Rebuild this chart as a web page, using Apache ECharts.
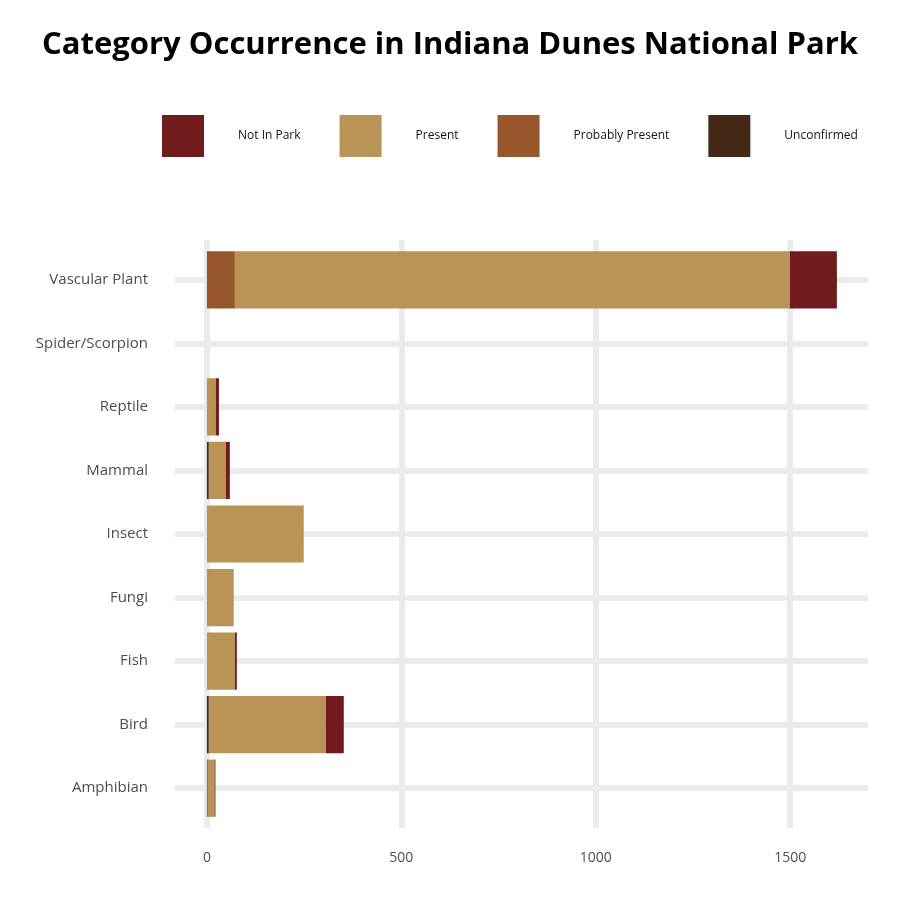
<!DOCTYPE html>
<html>
<head>
<meta charset="utf-8">
<script src="https://cdn.jsdelivr.net/npm/echarts@6/dist/echarts.min.js"></script>
<style>
  html, body { margin: 0; padding: 0; background: #fff; }
  #chart { width: 900px; height: 900px; }
</style>
</head>
<body>
<div id="chart"></div>
<script>
// categories, bottom to top
var categories = ['Amphibian', 'Bird', 'Fish', 'Fungi', 'Insect', 'Mammal', 'Reptile', 'Spider/Scorpion', 'Vascular Plant'];
// species counts per occurrence status
var unconfirmed     = [2, 5, 0, 0, 0, 5, 0, 0, 0];
var probablyPresent = [0, 0, 0, 0, 0, 0, 0, 0, 72];
var present         = [18, 301, 72, 69, 249, 44, 23, 0, 1427];
var notInPark       = [2, 46, 5, 0, 0, 10, 8, 0, 121];
var xTicks = [0, 500, 1000, 1500];

var chartDom = document.getElementById('chart');
var myChart = echarts.init(chartDom);
var font = 'Open Sans';

function barSeries(name, data, color) {
    return {
        name: name,
        type: 'bar',
        stack: 'total',
        data: data,
        barCategoryGap: '10%',
        itemStyle: { color: color },
        z: 3
    };
}

var option = {
    backgroundColor: '#fff',
    animation: false,
    title: {
        text: 'Category Occurrence in Indiana Dunes National Park',
        left: 'center',
        top: 25,
        textStyle: { fontFamily: font, fontWeight: 'bold', fontSize: 31, color: '#000' }
    },
    legend: {
        data: ['Not In Park', 'Present', 'Probably Present', 'Unconfirmed'],
        left: 162,
        top: 115,
        padding: 0,
        itemWidth: 42,
        itemHeight: 42,
        itemGap: 39,
        icon: 'rect',
        textStyle: { fontFamily: font, fontSize: 12, color: '#111', padding: [0, 0, 0, 29] }
    },
    grid: [
        { left: 175, right: 32, top: 248, bottom: 80 },
        { left: 175, right: 32, top: 240, bottom: 72 }
    ],
    xAxis: [
        {
            type: 'value', gridIndex: 0, min: -82, max: 1700, splitNumber: 4,
            axisLine: { show: false }, axisTick: { show: false }, splitLine: { show: false },
            axisLabel: { showMinLabel: false, showMaxLabel: false, margin: 31,
                fontFamily: font, fontSize: 14, color: '#4d4d4d',
                formatter: function (v) { return String(v); } }
        },
        {
            type: 'value', gridIndex: 1, min: -82, max: 1700, show: false
        }
    ],
    yAxis: [
        {
            type: 'category', gridIndex: 0, data: categories,
            axisLine: { show: false, onZero: false },
            axisTick: { show: true, alignWithLabel: true, inside: true, length: 693,
                lineStyle: { color: '#ebebeb', width: 6 } },
            splitLine: { show: false },
            axisLabel: { margin: 27, fontFamily: font, fontSize: 15, color: '#4d4d4d' }
        },
        { type: 'value', gridIndex: 1, min: 0, max: 1, show: false }
    ],
    series: [
        {
            type: 'line', xAxisIndex: 1, yAxisIndex: 1, data: [], silent: true, z: 1,
            markLine: {
                silent: true, symbol: 'none', z: 1, label: { show: false },
                lineStyle: { color: '#ebebeb', width: 6, type: 'solid' },
                data: xTicks.map(function (v) { return { xAxis: v }; })
            }
        },
        barSeries('Unconfirmed', unconfirmed, '#432818'),
        barSeries('Probably Present', probablyPresent, '#97572b'),
        barSeries('Present', present, '#ba9357'),
        barSeries('Not In Park', notInPark, '#701c1c')
    ]
};

myChart.setOption(option);
</script>
</body>
</html>
